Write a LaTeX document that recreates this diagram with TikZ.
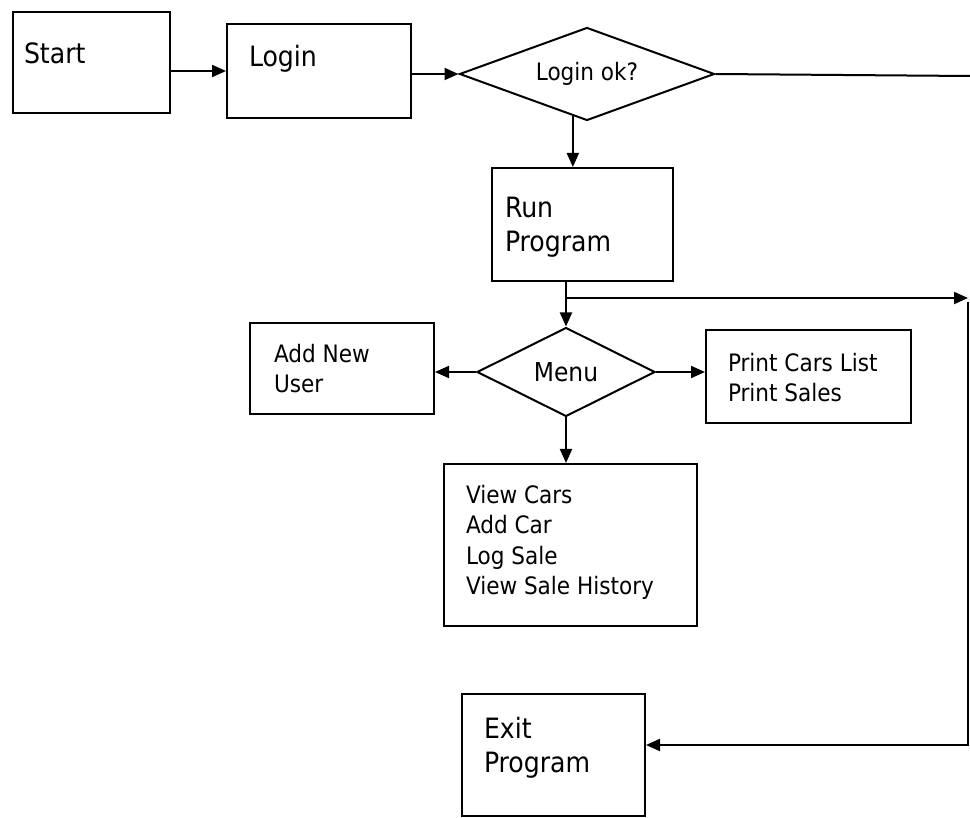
\documentclass[tikz,border=0pt]{standalone}
\usepackage{fontspec}
\setmainfont{DejaVu Sans Condensed}
\usetikzlibrary{arrows.meta,shapes.geometric,calc}
\begin{document}
\begin{tikzpicture}[x=1pt,y=-1pt,
  line width=2pt,
  box/.style={draw, rectangle, inner sep=0pt, anchor=north west},
  dec/.style={draw, diamond, inner sep=0pt, shape aspect=2.7},
  lblL/.style={inner sep=0pt, anchor=north west, align=left, font=\fontsize{28}{34}\selectfont},
  lblS/.style={inner sep=0pt, anchor=north west, align=left, font=\fontsize{24}{30.5}\selectfont},
  arr/.style={-{Triangle[length=14pt,width=12pt]}}]
\useasboundingbox (0,0) rectangle (970,818);
\fill[white] (0,0) rectangle (970,818);

% boxes
\node[box, minimum width=157, minimum height=101] (start) at (12,11) {};
\node[box, minimum width=184, minimum height=94] (login) at (226,23) {};
\node[box, minimum width=181, minimum height=113] (run) at (491,167) {};
\node[box, minimum width=184, minimum height=91] (add) at (249,322) {};
\node[box, minimum width=205, minimum height=93] (print) at (705,329) {};
\node[box, minimum width=253, minimum height=162] (view) at (443,463) {};
\node[box, minimum width=183, minimum height=122] (exit) at (461,693) {};

% decisions
\node[dec, minimum width=255, minimum height=93, font=\fontsize{24}{30}\selectfont] (lok) at (587,74) {Login ok?};
\node[dec, minimum width=178, minimum height=89, font=\fontsize{26}{32}\selectfont] (menu) at (566,372) {Menu};

% texts
\node[lblL] (startT) at (23,42) {Start};
\node[lblL] (loginT) at (248,44) {Login};
\node[lblL] (runT) at (504,196) {Run\\Program};
\node[lblS] (addT) at (273,343) {Add New\\User};
\node[lblS] (printT) at (727,352) {Print Cars List\\Print Sales};
\node[lblS] (viewT) at (465,484) {View Cars\\Add Car\\Log Sale\\View Sale History};
\node[lblL] (exitT) at (483,716) {Exit\\Program};

% helper coordinates
\coordinate (edgeA) at (970,76);
\coordinate (lokout) at ($(lok.south)!0.11!(lok.west)$);
\coordinate (junc) at (566,298);
\coordinate (edgeB) at (968,298);
\coordinate (edgeC) at (968,302);
\coordinate (edgeD) at (968,745);

% connectors
\draw[arr] (start.east |- login.west) -- (login.west);
\draw[arr] (login.east |- lok.west) -- (lok.west);
\draw (lok.east) -- (edgeA);
\draw[arr] (lokout) -- (lokout |- run.north);
\draw[arr] (menu.north |- run.south) -- (menu.north);
\draw[arr] (junc) -- (edgeB);
\draw[arr] (edgeC) -- (edgeD) -- (exit.east |- edgeD);
\draw[arr] (menu.west) -- (menu.west -| add.east);
\draw[arr] (menu.east) -- (menu.east -| print.west);
\draw[arr] (menu.south) -- (menu.south |- view.north);
\end{tikzpicture}
\end{document}
